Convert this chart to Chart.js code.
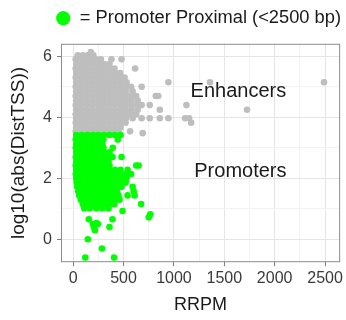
<!DOCTYPE html>
<html>
<head>
<meta charset="utf-8">
<script src="https://cdn.jsdelivr.net/npm/chart.js@4"></script>
<style>
  html, body { margin: 0; padding: 0; background: #ffffff; }
  #wrap { width: 346px; height: 320px; }
</style>
</head>
<body>
<div id="wrap"><canvas id="distChart"></canvas></div>
<script>
// distal peaks (grey), one row of RRPM values per log10 distance
const grayRowY = [6.14, 6.03, 5.9, 5.75, 5.6, 5.45, 5.3, 5.15, 5.0, 4.85, 4.7, 4.55, 4.4, 4.25, 4.1, 3.97, 3.82, 3.67, 3.54, 3.48];
const grayRowX = [
  [175],
  [45, 95, 145, 200],
  [25, 75, 125, 175, 225, 275, 380, 480],
  [30, 85, 140, 195, 250, 305, 360],
  [25, 80, 135, 190, 245, 300, 355, 410, 615],
  [30, 85, 140, 195, 250, 305, 360, 415, 465],
  [25, 80, 135, 190, 245, 300, 355, 410, 465, 510],
  [30, 85, 140, 195, 250, 305, 360, 415, 470, 530, 945, 1358, 2490],
  [25, 80, 135, 190, 245, 300, 355, 410, 465, 520, 575, 680],
  [30, 85, 140, 195, 250, 305, 360, 415, 470, 525, 590],
  [25, 80, 135, 190, 245, 300, 355, 410, 465, 520, 575, 625, 820, 845],
  [30, 85, 140, 195, 250, 305, 360, 415, 470, 525, 580, 640],
  [25, 80, 135, 190, 245, 300, 355, 410, 465, 520, 575, 630, 680, 760, 1124],
  [30, 85, 140, 195, 250, 305, 360, 415, 470, 525, 580, 640, 860, 1726],
  [25, 80, 135, 190, 245, 300, 355, 410, 465, 520, 575, 625],
  [30, 85, 140, 195, 250, 305, 360, 415, 470, 525, 590, 680, 760, 860, 945, 1111, 1151],
  [25, 80, 135, 190, 245, 300, 355, 410, 465, 520, 1171],
  [30, 85, 140, 195, 250, 305, 360, 415, 470],
  [25, 80, 135, 190, 245, 300, 355, 410, 450, 565],
  [690]
];

// promoter proximal peaks (green)
const greenRowY = [3.42, 3.27, 3.12, 3.0, 2.85, 2.7, 2.55, 2.42, 2.28, 2.14, 2.0, 1.86, 1.72, 1.58, 1.44, 1.3, 1.16, 1.02, 0.93, 0.82, 0.72, 0.66, 0.53, 0.5, 0.4, 0.3, 0.0, -0.3, -0.6];
const greenRowX = [
  [30, 85, 140, 195, 250, 305, 360, 415, 470],
  [25, 80, 135, 190, 245, 300, 442],
  [30, 85, 140, 195, 250, 290],
  [25, 80, 135, 190, 245, 300, 393],
  [30, 85, 140, 195, 250, 305, 360],
  [25, 80, 135, 190, 245, 300, 355, 390, 480],
  [30, 85, 140, 195, 250, 305, 350],
  [25, 80, 135, 190, 245, 300, 360, 625, 650],
  [30, 85, 140, 195, 250, 305, 360, 415, 470, 540],
  [25, 80, 135, 190, 245, 300, 355, 410, 465, 520, 575],
  [30, 85, 140, 195, 250, 305, 360, 415, 470, 530],
  [35, 90, 145, 200, 255, 310, 365, 420, 475, 520],
  [40, 95, 150, 205, 260, 315, 370, 425, 480, 590],
  [50, 105, 160, 215, 270, 325, 380, 435, 600],
  [60, 115, 170, 225, 280, 335, 390, 450, 540, 610],
  [75, 130, 185, 240, 295, 350, 405, 460],
  [95, 150, 205, 260, 315, 370, 410, 675],
  [110, 165, 230, 290, 350],
  [490],
  [765],
  [750],
  [155, 390],
  [230],
  [195, 245],
  [205, 360],
  [215],
  [145],
  [285],
  [120, 405]
];

const xTickValues = [0, 500, 1000, 1500, 2000, 2500];
const xMinorValues = [250, 750, 1250, 1750, 2250];
const yTickValues = [0, 2, 4, 6];
const yMinorValues = [1, 3, 5];
const regionLabels = ['Enhancers', 'Promoters'];
const regionLabelX = [1640, 1660];
const regionLabelY = [4.84, 2.21];
const legendText = '= Promoter Proximal (<2500 bp)';

function rowsToPoints(ys, xs) {
  const points = [];
  ys.forEach((y, i) => {
    xs[i].forEach(x => points.push({ x: x, y: y }));
  });
  return points;
}

function setTicks(major, minor) {
  return function (scale) {
    scale.ticks = major.concat(minor).sort((a, b) => a - b).map(v => ({ value: v }));
  };
}

function gridOpts(major) {
  return {
    color: ctx => major.includes(ctx.tick && ctx.tick.value) ? '#e5e5e5' : '#f2f2f2',
    tickColor: ctx => major.includes(ctx.tick && ctx.tick.value) ? '#7f7f7f' : 'rgba(0,0,0,0)',
    tickLength: 4,
    lineWidth: 1
  };
}

const panelBorder = {
  id: 'panelBorder',
  afterDatasetsDraw(chart) {
    const { ctx, chartArea: a, scales } = chart;
    ctx.save();
    ctx.strokeStyle = '#8c8c8c';
    ctx.lineWidth = 1;
    ctx.strokeRect(a.left + 0.5, a.top + 0.5, a.right - a.left - 1, a.bottom - a.top - 1);
    ctx.fillStyle = '#1a1a1a';
    ctx.font = '20px "Liberation Sans", Arial, sans-serif';
    ctx.textAlign = 'center';
    ctx.textBaseline = 'middle';
    regionLabels.forEach((t, i) => {
      ctx.fillText(t, scales.x.getPixelForValue(regionLabelX[i]), scales.y.getPixelForValue(regionLabelY[i]));
    });
    ctx.restore();
  }
};

// legend sits a bit further from the panel and slightly left of the right edge
const legendSpace = {
  id: 'legendSpace',
  beforeInit(chart) {
    const legend = chart.legend;
    const fit = legend.fit;
    const draw = legend.draw;
    legend.fit = function () {
      fit.apply(legend, arguments);
      this.height += 6.5;
    };
    legend.draw = function () {
      const c = legend.ctx;
      c.save();
      c.translate(-2.5, 0);
      draw.apply(legend, arguments);
      c.restore();
    };
  }
};

function createDistChart() {
  const canvas = document.getElementById('distChart');
  if (!canvas) {
    console.error('Canvas element "distChart" not found');
    return;
  }
  Chart.defaults.font.family = '"Liberation Sans", Arial, sans-serif';
  window.distChart = new Chart(canvas, {
    type: 'scatter',
    data: {
      datasets: [{
        label: legendText,
        data: rowsToPoints(greenRowY, greenRowX),
        backgroundColor: '#00ff00',
        borderWidth: 0,
        pointRadius: 3.3,
        pointHoverRadius: 3.3,
        pointStyle: 'circle'
      }, {
        label: 'Distal',
        data: rowsToPoints(grayRowY, grayRowX),
        backgroundColor: '#bebebe',
        borderWidth: 0,
        pointRadius: 3.3,
        pointHoverRadius: 3.3
      }]
    },
    options: {
      responsive: true,
      maintainAspectRatio: false,
      animation: false,
      layout: { padding: { left: 7, right: 2.5, top: 9, bottom: 3 } },
      plugins: {
        tooltip: { enabled: false },
        legend: {
          position: 'top',
          align: 'end',
          labels: {
            filter: item => item.datasetIndex === 0,
            usePointStyle: true,
            boxWidth: 15,
            boxHeight: 10,
            padding: 0,
            color: '#1a1a1a',
            font: { size: 18.3 }
          }
        }
      },
      scales: {
        x: {
          type: 'linear',
          min: -121,
          max: 2650,
          afterBuildTicks: setTicks(xTickValues, xMinorValues),
          grid: gridOpts(xTickValues),
          border: { display: false },
          ticks: {
            autoSkip: false,
            maxRotation: 0,
            padding: 3,
            color: '#3a3a3a',
            font: { size: 16 },
            callback: v => xTickValues.includes(v) ? String(v) : ''
          },
          title: { display: true, text: 'RRPM', color: '#1a1a1a', font: { size: 18 }, padding: { top: 3, bottom: 1 } }
        },
        y: {
          type: 'linear',
          min: -0.75,
          max: 6.41,
          afterBuildTicks: setTicks(yTickValues, yMinorValues),
          grid: gridOpts(yTickValues),
          border: { display: false },
          ticks: {
            autoSkip: false,
            padding: 5,
            color: '#3a3a3a',
            font: { size: 16 },
            callback: v => yTickValues.includes(v) ? String(v) : ''
          },
          title: { display: true, text: 'log10(abs(DistTSS))', color: '#1a1a1a', font: { size: 19 }, padding: { top: 0, bottom: 8.3 } }
        }
      }
    },
    plugins: [panelBorder, legendSpace]
  });
}

createDistChart();
</script>
</body>
</html>
